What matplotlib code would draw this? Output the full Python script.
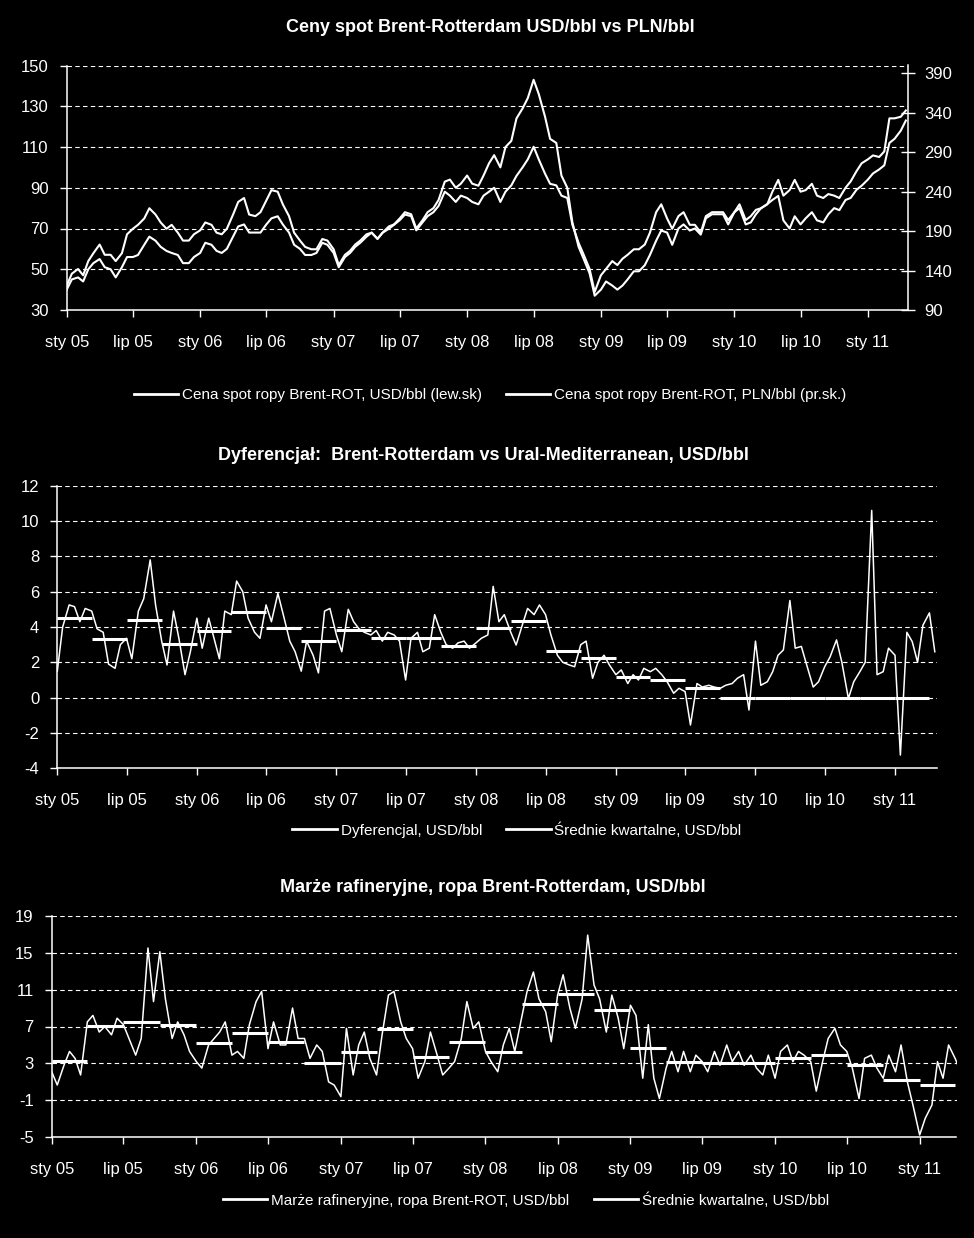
"""
Brent spot prices, Brent-Ural differential and refinery margins, 2005-2011.
Three stacked panels, black background, white lines (Excel-style report chart).
"""
import numpy as np
import pandas as pd
import matplotlib
matplotlib.use("Agg")
import matplotlib.pyplot as plt
import matplotlib.dates as mdates
from matplotlib.ticker import FuncFormatter

plt.rcParams["font.family"] = ["Liberation Sans", "DejaVu Sans"]
plt.rcParams["axes.unicode_minus"] = False

# semi-monthly observations (1st and 15th of each month)
DATES = pd.date_range("2005-01-01", "2011-04-15", freq="SMS")
QUARTERS = pd.date_range("2005-01-01", periods=25, freq="QS")

BRENT_USD = [
    40, 45, 46, 44, 50, 53, 55, 51, 50, 46, 51, 56, 56, 57, 62, 66, 64, 61, 59, 58, 57, 53, 53, 56,
    58, 63, 62, 59, 58, 60, 66, 71, 72, 68, 68, 68, 72, 75, 76, 72, 68, 62, 60, 57, 57, 58, 63, 62,
    58, 51, 56, 58, 61, 63, 66, 68, 65, 68, 71, 72, 75, 78, 77, 70, 74, 78, 80, 84, 93, 94, 90, 92,
    96, 92, 91, 96, 102, 106, 100, 110, 113, 124, 129, 134, 143, 136, 125, 114, 112, 96, 90, 73, 61, 55, 48, 37,
    40, 44, 42, 40, 42, 45, 49, 49, 52, 57, 64, 69, 68, 62, 70, 72, 69, 70, 67, 75, 77, 77, 77, 72,
    78, 80, 72, 73, 77, 80, 82, 84, 86, 74, 70, 76, 72, 75, 78, 74, 73, 77, 80, 79, 84, 85, 89, 91,
    94, 97, 99, 101, 112, 114, 118, 123,
]
BRENT_PLN = [
    121, 136, 142, 134, 152, 162, 173, 160, 160, 152, 162, 186, 193, 198, 206, 219, 211, 201, 193, 198, 188, 178, 178, 186,
    191, 201, 198, 188, 186, 193, 211, 227, 232, 211, 209, 214, 229, 242, 240, 224, 209, 188, 178, 170, 167, 167, 180, 178,
    167, 147, 160, 165, 173, 178, 186, 188, 180, 188, 193, 198, 204, 211, 209, 191, 201, 209, 214, 222, 240, 235, 227, 235,
    232, 227, 224, 235, 240, 245, 227, 240, 248, 260, 271, 281, 297, 281, 263, 250, 248, 235, 232, 198, 175, 160, 142, 113,
    134, 142, 152, 147, 155, 160, 167, 167, 173, 188, 214, 224, 206, 193, 209, 214, 198, 198, 188, 209, 214, 214, 214, 204,
    214, 224, 204, 209, 217, 219, 224, 240, 255, 235, 242, 255, 240, 242, 250, 235, 232, 237, 235, 232, 245, 253, 266, 276,
    281, 286, 284, 291, 333, 333, 335, 343,
]

DIFF = [
    1.5, 4.0, 5.25, 5.15, 4.3, 5.05, 4.9, 3.9, 3.7, 1.9, 1.66, 3.0, 3.36, 2.2, 4.9, 5.6, 7.8, 5.25, 3.2, 1.85, 4.9, 3.36, 1.3, 2.6,
    4.5, 2.8, 4.5, 3.36, 2.2, 4.9, 4.7, 6.6, 6.0, 4.5, 3.7, 3.36, 5.25, 4.3, 5.9, 4.7, 3.2, 2.6, 1.5, 3.2, 2.4, 1.4, 4.9, 5.05,
    3.55, 2.6, 5.0, 4.3, 3.9, 3.7, 3.55, 3.8, 3.2, 3.7, 3.55, 3.2, 1.0, 3.36, 3.7, 2.6, 2.8, 4.7, 3.7, 3.0, 2.8, 3.1, 3.2, 2.8,
    3.1, 3.36, 3.55, 6.3, 4.3, 4.7, 3.7, 2.98, 4.1, 5.05, 4.7, 5.25, 4.7, 3.55, 2.4, 2.0, 1.85, 1.75, 3.0, 3.2, 1.1, 2.0, 2.4, 1.85,
    1.3, 1.57, 0.8, 1.3, 1.0, 1.66, 1.47, 1.66, 1.3, 0.9, 0.25, 0.53, 0.34, -1.55, 0.8, 0.6, 0.7, 0.6, 0.53, 0.7, 0.8, 1.1, 1.3, -0.7,
    3.2, 0.7, 0.9, 1.47, 2.4, 2.7, 5.5, 2.8, 2.9, 1.85, 0.6, 0.9, 1.75, 2.3, 3.27, 2.0, -0.05, 0.9, 1.47, 2.0, 10.6, 1.3, 1.47, 2.8,
    2.4, -3.25, 3.7, 3.17, 2.0, 4.1, 4.8, 2.6,
]
DIFF_Q = [4.5, 3.3, 4.4, 3.05, 3.75, 4.83, 3.95, 3.22, 3.83, 3.4, 3.4, 2.93, 3.96,
          4.36, 2.66, 2.23, 1.15, 1.02, 0.53, 0, 0, 0, 0, 0, 0]

MARGIN = [
    2.1, 0.66, 2.8, 4.3, 3.55, 1.75, 7.5, 8.2, 6.4, 7.0, 6.1, 7.9, 7.2, 5.7, 3.9, 5.7, 15.5, 9.7, 15.1, 10.0, 5.7, 7.5, 6.1, 4.3,
    3.2, 2.5, 5.0, 5.7, 6.4, 7.5, 3.9, 4.3, 3.55, 7.2, 9.7, 10.8, 4.6, 7.5, 5.0, 5.0, 9.0, 5.7, 5.7, 3.55, 5.0, 4.3, 1.0, 0.66,
    -0.6, 6.8, 1.75, 5.0, 6.4, 3.55, 1.75, 6.1, 10.4, 10.8, 7.5, 5.7, 4.6, 1.4, 3.2, 6.4, 3.9, 1.75, 2.5, 3.2, 5.7, 9.7, 6.8, 7.5,
    4.3, 3.2, 2.1, 5.0, 6.8, 4.3, 7.9, 10.8, 12.9, 10.0, 8.6, 5.35, 10.4, 12.6, 9.0, 6.8, 10.0, 16.9, 11.5, 10.0, 6.4, 10.4, 7.9, 4.6,
    9.3, 8.2, 1.4, 7.2, 1.4, -0.8, 2.5, 4.3, 2.1, 4.3, 2.1, 3.9, 3.2, 2.1, 4.3, 2.8, 5.0, 3.2, 4.3, 2.8, 3.9, 2.5, 1.75, 3.9,
    1.4, 4.3, 5.0, 3.2, 4.3, 3.9, 3.2, 0.0, 3.2, 5.7, 6.8, 5.0, 4.3, 2.5, -0.8, 3.55, 3.9, 2.5, 1.4, 3.9, 2.1, 5.0, 1.0, -1.5,
    -4.75, -2.95, -1.5, 3.2, 1.4, 5.0, 3.5, 2.0,
]
MARGIN_Q = [3.3, 7.1, 7.5, 7.2, 5.17, 6.33, 5.3, 3.1, 4.2, 6.76, 3.65, 5.28, 4.2,
            9.4, 10.5, 8.8, 4.7, 3.2, 3.1, 3.0, 3.55, 3.9, 2.8, 1.24, 0.66]

MONTH_PL = {1: "sty", 7: "lip"}
W, H = 974, 1238


def px_axes(left, top, right, bottom):
    return [left / W, 1 - bottom / H, (right - left) / W, (bottom - top) / H]


def style(ax, ylim, yticks, xend):
    ax.set_facecolor("black")
    ax.set_xlim(pd.Timestamp("2005-01-01"), pd.Timestamp(xend))
    ax.set_ylim(*ylim)
    ax.set_yticks(yticks)
    ax.xaxis.set_major_locator(mdates.MonthLocator(bymonth=[1, 7]))
    ax.xaxis.set_major_formatter(FuncFormatter(
        lambda v, _: f"{MONTH_PL[mdates.num2date(v).month]} {mdates.num2date(v):%y}"))
    ax.grid(axis="y", color="white", lw=0.8, ls=(0, (4, 3)))
    ax.grid(axis="x", visible=False)
    ax.tick_params(axis="both", colors="white", labelsize=12, length=5, width=1)
    ax.tick_params(axis="x", pad=13)
    ax.tick_params(axis="y", pad=8)
    for s in ("top", "right"):
        ax.spines[s].set_visible(False)
    for s in ("left", "bottom"):
        ax.spines[s].set_color("white")
        ax.spines[s].set_linewidth(1.1)


fig = plt.figure(figsize=(W / 100, H / 100), dpi=100, facecolor="black")
title_kw = dict(color="white", fontsize=13, fontweight="bold", ha="center", va="center")
leg_kw = dict(loc="center", ncol=2, frameon=False, fontsize=11, labelcolor="white",
              handlelength=2.9, handletextpad=0.25, columnspacing=1.6)

q_start = mdates.date2num(QUARTERS)
q_end = mdates.date2num(QUARTERS + pd.offsets.QuarterBegin(startingMonth=1))

# --- panel 1: Brent USD/bbl vs PLN/bbl
ax1 = fig.add_axes(px_axes(66.7, 65.5, 907.7, 310))
style(ax1, (30, 150), range(30, 151, 20), "2011-04-20")
l1, = ax1.plot(DATES, BRENT_USD, color="white", lw=1.5)
ax2 = ax1.twinx()
ax2.set_ylim(90, 400)
ax2.set_yticks(range(90, 391, 50))
l2, = ax2.plot(DATES, BRENT_PLN, color="white", lw=1.5)
ax2.tick_params(axis="y", colors="white", labelsize=12, direction="inout", length=10, width=1, pad=7)
for s in ("top", "left", "bottom"):
    ax2.spines[s].set_visible(False)
ax2.spines["right"].set_color("white")
ax2.spines["right"].set_linewidth(1.1)
fig.text(490 / W, 1 - 27 / H, "Ceny spot Brent-Rotterdam USD/bbl vs PLN/bbl", **title_kw)
fig.legend([l1, l2], ["Cena spot ropy Brent-ROT, USD/bbl (lew.sk)",
                      "Cena spot ropy Brent-ROT, PLN/bbl (pr.sk.)"],
           bbox_to_anchor=(490 / W, 1 - 395 / H), **leg_kw)

# --- panel 2: Brent-Ural differential
ax3 = fig.add_axes(px_axes(57.3, 485.7, 936.7, 768.3))
style(ax3, (-4, 12), range(-4, 13, 2), "2011-04-20")
l3, = ax3.plot(DATES, DIFF, color="white", lw=1.1)
ax3.hlines(DIFF_Q, q_start, q_end, color="white", lw=2.2)
fig.text(483 / W, 1 - 455 / H, "Dyferencjał:  Brent-Rotterdam vs Ural-Mediterranean, USD/bbl", **title_kw)
fig.legend([l3, plt.Line2D([], [], color="white", lw=2)],
           ["Dyferencjal, USD/bbl", "Średnie kwartalne, USD/bbl"],
           bbox_to_anchor=(517 / W, 1 - 830 / H), **leg_kw)

# --- panel 3: refinery margins
ax4 = fig.add_axes(px_axes(51.7, 915.7, 956.5, 1137.3))
style(ax4, (-5, 19), range(-5, 20, 4), "2011-04-04")
l5, = ax4.plot(DATES, MARGIN, color="white", lw=1.1)
ax4.hlines(MARGIN_Q, q_start, q_end, color="white", lw=2.2)
fig.text(493 / W, 1 - 887 / H, "Marże rafineryjne, ropa Brent-Rotterdam, USD/bbl", **title_kw)
fig.legend([l5, plt.Line2D([], [], color="white", lw=2)],
           ["Marże rafineryjne, ropa Brent-ROT, USD/bbl", "Średnie kwartalne, USD/bbl"],
           bbox_to_anchor=(526 / W, 1 - 1200 / H), **leg_kw)

for lg in fig.legends:
    for h in lg.legend_handles:
        h.set_linewidth(2)

fig.savefig("out.png", dpi=100, facecolor="black")
